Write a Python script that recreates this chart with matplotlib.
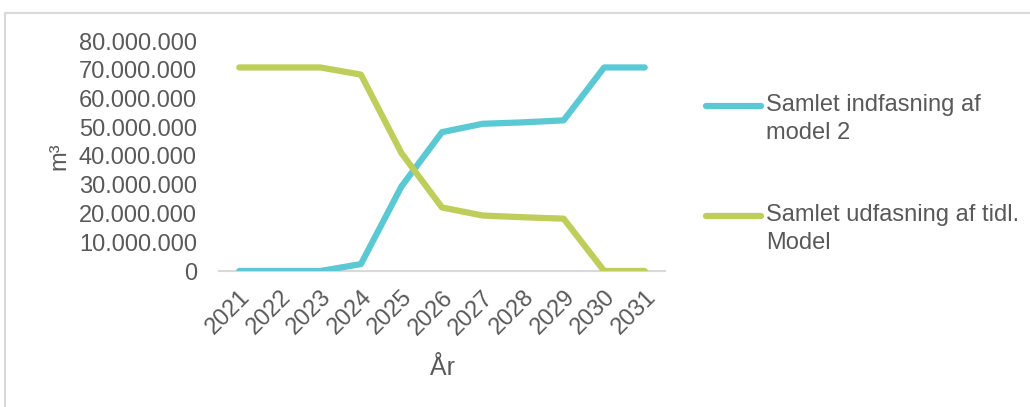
import matplotlib
matplotlib.use("Agg")
import matplotlib.pyplot as plt
from matplotlib.lines import Line2D
from matplotlib.patches import Rectangle
from matplotlib.ticker import FuncFormatter, MultipleLocator

plt.rcParams["font.family"] = ["Liberation Sans", "DejaVu Sans"]

years = ["2021", "2022", "2023", "2024", "2025", "2026", "2027", "2028", "2029", "2030", "2031"]
indfasning = [0, 0, 0, 2.4e6, 29.4e6, 48.3e6, 51.2e6, 51.7e6, 52.4e6, 70.8e6, 70.8e6]
udfasning = [70.8e6, 70.8e6, 70.8e6, 68.3e6, 41.0e6, 22.1e6, 19.3e6, 18.7e6, 18.2e6, 0, 0]
series_names = ["Samlet indfasning af\nmodel 2", "Samlet udfasning af tidl.\nModel"]

CYAN = "#5BC9D3"
GREEN = "#BFCE5B"
TEXT = "#595959"
FS = 17

fig = plt.figure(figsize=(10.30, 4.07), dpi=100)
ax = fig.add_axes([219 / 1030, 1 - 271 / 407, (665 - 219) / 1030, (271 - 41) / 407])

x = list(range(len(years)))
ax.plot(x, indfasning, color=CYAN, lw=4.5, solid_capstyle="round", solid_joinstyle="round", zorder=3)
ax.plot(x, udfasning, color=GREEN, lw=4.5, solid_capstyle="round", solid_joinstyle="round", zorder=3)

ax.set_xlim(-0.5, len(years) - 0.5)
ax.set_ylim(0, 80e6)
ax.yaxis.set_major_locator(MultipleLocator(10e6))
ax.yaxis.set_major_formatter(FuncFormatter(lambda v, p: f"{int(round(v)):,}".replace(",", ".")))
ax.set_xticks(x)
ax.set_xticklabels(years, rotation=45, ha="right", rotation_mode="anchor")

for s in ["top", "right", "left"]:
    ax.spines[s].set_visible(False)
ax.spines["bottom"].set_color("#D9D9D9")
ax.spines["bottom"].set_linewidth(1.5)
ax.spines["bottom"].set_zorder(1)
ax.tick_params(axis="both", length=0, labelsize=FS, labelcolor=TEXT)
ax.tick_params(axis="y", pad=16)
ax.tick_params(axis="x", pad=11)

ax.set_xlabel("År", fontsize=18, color=TEXT, labelpad=12)
ax.set_ylabel("m³", fontsize=FS, color=TEXT, labelpad=6)

# legend drawn on the right side
for color, label, yc in [(CYAN, series_names[0], 106), (GREEN, series_names[1], 216)]:
    yf = 1 - yc / 407
    fig.add_artist(Line2D([706 / 1030, 761 / 1030], [yf, yf], color=color, lw=4.5,
                          solid_capstyle="round", transform=fig.transFigure))
    fig.text(766 / 1030, 1 - (yc - 12) / 407, label, fontsize=FS, color=TEXT,
             va="top", ha="left", linespacing=1.35)

# chart frame
fig.add_artist(Rectangle((5 / 1030, -0.05), 1.1, 1 - 13 / 407 + 0.05, transform=fig.transFigure,
                         fill=False, edgecolor="#D9D9D9", lw=1.5))

fig.savefig("out.png", dpi=100)
